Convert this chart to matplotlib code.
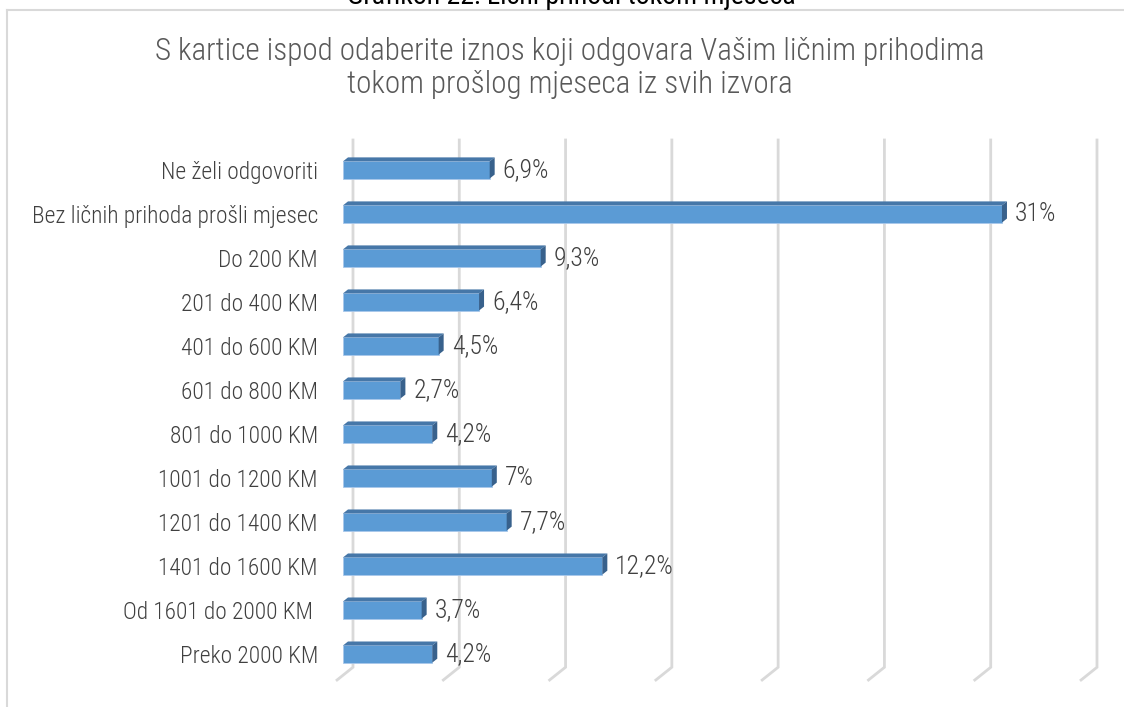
import matplotlib.pyplot as plt
from matplotlib.patches import Polygon

# data
categories = ['Ne želi odgovoriti', 'Bez ličnih prihoda prošli mjesec', 'Do 200 KM',
              '201 do 400 KM', '401 do 600 KM', '601 do 800 KM', '801 do 1000 KM',
              '1001 do 1200 KM', '1201 do 1400 KM', '1401 do 1600 KM',
              'Od 1601 do 2000 KM ', 'Preko 2000 KM']
values = [6.9, 31, 9.3, 6.4, 4.5, 2.7, 4.2, 7.0, 7.7, 12.2, 3.7, 4.2]
value_labels = ['6,9%', '31%', '9,3%', '6,4%', '4,5%', '2,7%', '4,2%', '7%',
                '7,7%', '12,2%', '3,7%', '4,2%']
grid_ticks = [0, 5, 10, 15, 20, 25, 30, 35]

title = 'S kartice ispod odaberite iznos koji odgovara Vašim ličnim prihodima\ntokom prošlog mjeseca iz svih izvora'
caption = 'Grafikon 22: Lični prihodi tokom mjeseca'

plt.rcParams['font.family'] = ['Roboto Condensed', 'DejaVu Sans']
plt.rcParams['font.stretch'] = 'condensed'
plt.rcParams['font.weight'] = 'light'

W, H = 1124, 707
fig = plt.figure(figsize=(W / 100, H / 100), dpi=100)

# chart frame (top and left edge visible)
fig.add_artist(plt.Line2D([7 / W, 7 / W], [0, 1 - 10 / H], color='#d9d9d9', lw=1.5))
fig.add_artist(plt.Line2D([7 / W, 1], [1 - 10 / H, 1 - 10 / H], color='#d9d9d9', lw=1.5))
fig.text(571 / W, 1 - 4 / H, caption, ha='center', va='baseline', fontsize=20,
         color='black', fontweight='normal')
fig.text(570 / W, 1 - 68 / H, title, ha='center', va='center', fontsize=22.4,
         color='#595959', linespacing=1.2)

ax = fig.add_axes([343 / W, 1 - 680 / H, (1087 - 343) / W, (680 - 140) / H])
ax.set_xlim(0, 35)
ax.set_ylim(11.59, -0.68)
for s in ax.spines.values():
    s.set_visible(False)
ax.set_xticks([])

# 3d-ish gridlines: back wall + floor slant
back_dx, floor_dx = 0.47, -0.28
for g in grid_ticks:
    ax.plot([g + back_dx, g + back_dx, g + floor_dx], [-0.68, 11.3, 11.59],
            color='#d9d9d9', lw=2, zorder=0, clip_on=False, solid_joinstyle='miter')

# bars
h = 0.39
dx, dy = 0.235, 0.09
for i, v in enumerate(values):
    top = i - h / 2
    bot = i + h / 2
    ax.barh(i, v, height=h, color='#5b9bd5', edgecolor='#a9c8eb', linewidth=0.6, zorder=3)
    ax.add_patch(Polygon([(0, top), (v, top), (v + dx, top - dy), (dx, top - dy)],
                         closed=True, facecolor='#4677a8', edgecolor='none', zorder=3))
    ax.add_patch(Polygon([(v, top), (v + dx, top - dy), (v + dx, bot - dy), (v, bot)],
                         closed=True, facecolor='#38618c', edgecolor='none', zorder=3))
    ax.annotate(value_labels[i], (v, i), xytext=(13, 0), textcoords='offset pixels',
                ha='left', va='center', fontsize=18.5, color='#404040')

ax.set_yticks(range(len(categories)))
ax.set_yticklabels(categories, fontsize=16.8, color='#404040')
ax.tick_params(axis='y', length=0, pad=18)

fig.savefig('out.png', dpi=100)
